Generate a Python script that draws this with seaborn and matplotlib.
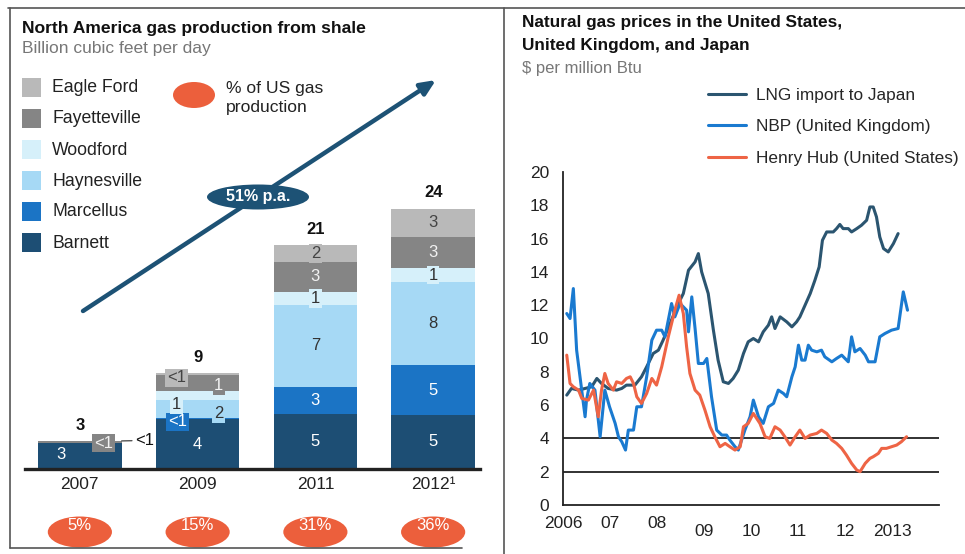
import numpy as np
import pandas as pd
import matplotlib
matplotlib.use("Agg")
import matplotlib.pyplot as plt
import matplotlib.transforms as mtransforms
from matplotlib.patches import Ellipse, Rectangle
from matplotlib.lines import Line2D
import seaborn as sns

# ---------------- data: shale production (bcf/d) ----------------
years = ["2007", "2009", "2011", "2012¹"]
sources = ["Barnett", "Marcellus", "Haynesville", "Woodford", "Fayetteville", "Eagle Ford"]
barnett = [2.4, 4.6, 5.1, 5.0]
marcellus = [0.0, 0.15, 2.5, 4.6]
haynesville = [0.0, 1.6, 7.6, 7.7]
woodford = [0.0, 0.9, 1.2, 1.3]
fayetteville = [0.2, 1.5, 2.8, 2.9]
eagle_ford = [0.0, 0.1, 1.5, 2.6]
seg_labels = {
    "Barnett": ["3", "4", "5", "5"],
    "Marcellus": ["", "<1", "3", "5"],
    "Haynesville": ["", "2", "7", "8"],
    "Woodford": ["", "1", "1", "1"],
    "Fayetteville": ["<1", "1", "3", "3"],
    "Eagle Ford": ["<1", "<1", "2", "3"],
}
totals = ["3", "9", "21", "24"]
us_share = ["5%", "15%", "31%", "36%"]
growth = "51% p.a."

# ---------------- data: gas prices ($/MMBtu) ----------------
lng_t = [2006.08, 2006.18, 2006.33, 2006.47, 2006.61, 2006.72, 2006.82, 2006.96, 2007.14, 2007.25,
         2007.35, 2007.53, 2007.67, 2007.78, 2007.92, 2008.03, 2008.13, 2008.28, 2008.42, 2008.56,
         2008.67, 2008.81, 2008.88, 2008.95, 2009.09, 2009.20, 2009.30, 2009.41, 2009.52, 2009.62,
         2009.73, 2009.84, 2009.94, 2010.05, 2010.16, 2010.26, 2010.37, 2010.44, 2010.51, 2010.62,
         2010.76, 2010.87, 2010.97, 2011.04, 2011.15, 2011.26, 2011.36, 2011.45, 2011.52, 2011.61,
         2011.75, 2011.82, 2011.89, 2011.96, 2012.07, 2012.14, 2012.25, 2012.35, 2012.46, 2012.53,
         2012.60, 2012.67, 2012.74, 2012.82, 2012.92, 2013.03, 2013.13]
lng_v = [6.6, 7.0, 6.9, 7.0, 7.1, 7.6, 7.3, 7.0, 6.9, 7.0,
         7.2, 7.2, 7.7, 8.3, 9.1, 9.3, 9.9, 10.9, 11.9, 12.7,
         14.1, 14.6, 15.1, 14.0, 12.7, 10.5, 8.7, 7.4, 7.3, 7.6,
         8.1, 9.1, 9.8, 10.0, 9.8, 10.4, 10.8, 11.3, 10.6, 11.3,
         11.0, 10.7, 11.0, 11.3, 12.0, 12.7, 13.5, 14.3, 15.9, 16.4,
         16.4, 16.6, 16.85, 16.6, 16.6, 16.4, 16.6, 16.8, 17.1, 17.9,
         17.9, 17.3, 16.1, 15.4, 15.2, 15.7, 16.3]

nbp_t = [2006.08, 2006.15, 2006.22, 2006.29, 2006.47, 2006.50, 2006.57, 2006.68, 2006.79, 2006.89,
         2006.99, 2007.11, 2007.18, 2007.25, 2007.33, 2007.39, 2007.50, 2007.57, 2007.67, 2007.78,
         2007.89, 2007.99, 2008.10, 2008.17, 2008.31, 2008.38, 2008.49, 2008.63, 2008.67, 2008.74,
         2008.81, 2008.88, 2008.99, 2009.06, 2009.16, 2009.27, 2009.38, 2009.48, 2009.55, 2009.66,
         2009.73, 2009.87, 2009.98, 2010.05, 2010.16, 2010.26, 2010.37, 2010.48, 2010.58, 2010.69,
         2010.76, 2010.87, 2010.94, 2011.01, 2011.08, 2011.15, 2011.22, 2011.29, 2011.40, 2011.50,
         2011.57, 2011.72, 2011.82, 2011.93, 2012.00, 2012.07, 2012.14, 2012.21, 2012.32, 2012.43,
         2012.50, 2012.64, 2012.74, 2012.85, 2012.99, 2013.13, 2013.24, 2013.33]
nbp_v = [11.5, 11.2, 13.0, 9.3, 5.3, 6.3, 7.3, 6.9, 4.1, 6.9,
         5.9, 4.9, 4.1, 3.8, 3.3, 4.5, 4.5, 5.9, 5.9, 7.7,
         9.9, 10.5, 10.5, 10.1, 12.1, 11.3, 12.1, 11.7, 10.4, 12.5,
         10.6, 8.5, 8.5, 8.8, 6.5, 4.5, 4.2, 4.2, 3.9, 3.5,
         3.3, 4.5, 5.3, 6.3, 5.3, 4.9, 5.9, 6.1, 6.9, 6.7,
         6.5, 7.7, 8.3, 9.6, 8.7, 8.7, 9.6, 9.3, 9.2, 9.3,
         8.9, 8.6, 8.8, 9.0, 8.8, 8.6, 10.1, 9.2, 9.4, 9.0,
         8.6, 8.6, 10.1, 10.3, 10.5, 10.6, 12.8, 11.7]

hh_t = [2006.08, 2006.15, 2006.22, 2006.33, 2006.40, 2006.54, 2006.65, 2006.75, 2006.82, 2006.89,
        2006.96, 2007.07, 2007.14, 2007.25, 2007.35, 2007.43, 2007.50, 2007.57, 2007.67, 2007.78,
        2007.89, 2007.99, 2008.10, 2008.24, 2008.38, 2008.47, 2008.56, 2008.63, 2008.70, 2008.81,
        2008.91, 2009.02, 2009.13, 2009.23, 2009.34, 2009.45, 2009.55, 2009.66, 2009.77, 2009.84,
        2009.94, 2010.05, 2010.19, 2010.30, 2010.40, 2010.51, 2010.62, 2010.72, 2010.83, 2010.94,
        2011.04, 2011.15, 2011.26, 2011.40, 2011.50, 2011.61, 2011.72, 2011.82, 2011.93, 2012.03,
        2012.14, 2012.25, 2012.32, 2012.43, 2012.53, 2012.60, 2012.71, 2012.78, 2012.88, 2012.99,
        2013.10, 2013.20, 2013.31]
hh_v = [9.0, 7.3, 7.1, 6.9, 6.4, 6.3, 6.9, 5.3, 6.9, 7.9,
        7.3, 6.9, 7.4, 7.3, 7.6, 7.7, 7.3, 6.5, 6.1, 6.7,
        7.6, 7.2, 8.3, 10.1, 11.7, 12.6, 11.5, 9.5, 7.9, 6.9,
        6.6, 5.7, 4.7, 4.1, 3.5, 3.7, 3.5, 3.3, 3.5, 4.7,
        4.9, 5.5, 4.9, 4.1, 4.0, 4.7, 4.5, 4.1, 3.6, 4.1,
        4.5, 4.0, 4.2, 4.3, 4.5, 4.3, 3.9, 3.7, 3.4, 3.0,
        2.5, 2.1, 2.0, 2.5, 2.8, 2.9, 3.1, 3.4, 3.4, 3.5,
        3.6, 3.8, 4.1]

price_years = list(range(2006, 2015))
price_year_labels = ["2006", "07", "08", "09", "10", "11", "12", "2013", ""]
ref_levels = [2, 4]

# ---------------- styling ----------------
colors = {
    "Barnett": "#1d4e74",
    "Marcellus": "#1b74c5",
    "Haynesville": "#a6d9f5",
    "Woodford": "#d6f0fa",
    "Fayetteville": "#858585",
    "Eagle Ford": "#b9b9b9",
}
text_on = {
    "Barnett": "white", "Marcellus": "white", "Haynesville": "#333333",
    "Woodford": "#333333", "Fayetteville": "#f2f2f2", "Eagle Ford": "#444444",
}
orange = "#ec5f3c"
navy = "#1d5275"
line_colors = {"LNG import to Japan": "#2b5570",
               "NBP (United Kingdom)": "#1a7ad0",
               "Henry Hub (United States)": "#ee6445"}

# label placement tweaks for thin segments (dx in bar units, dy in bcf/d)
nudge = {
    (0, "Barnett"): (-0.16, 0.1),
    (0, "Fayetteville"): (0.2, -0.1),
    (1, "Marcellus"): (-0.17, -0.3),
    (1, "Haynesville"): (0.18, -0.45),
    (1, "Woodford"): (-0.18, -0.85),
    (1, "Fayetteville"): (0.18, -0.3),
    (1, "Eagle Ford"): (-0.18, -0.35),
}

sns.set_style("white")
plt.rcParams["font.family"] = ["Liberation Sans", "DejaVu Sans"]

W, H = 965, 554


def fx(x):
    return x / W


def fy(y):
    return 1 - y / H


fig = plt.figure(figsize=(W / 100, H / 100), dpi=100)

# ================= left panel: stacked bars =================
bar_df = pd.DataFrame({"year": years, "Barnett": barnett, "Marcellus": marcellus,
                       "Haynesville": haynesville, "Woodford": woodford,
                       "Fayetteville": fayetteville, "Eagle Ford": eagle_ford})
stack = bar_df[sources].cumsum(axis=1)

ax1 = fig.add_axes([fx(25), fy(469), fx(480) - fx(25), 28 * 10.8 / H])
for src in reversed(sources):
    sns.barplot(x=bar_df["year"], y=stack[src], color=colors[src], saturation=1,
                width=0.71, linewidth=0, errorbar=None, ax=ax1)

ax1.set_xlim(-0.466, 3.398)
ax1.set_ylim(0, 28)
ax1.set_xlabel("")
ax1.set_ylabel("")
ax1.set_yticks([])
for s in ["top", "left", "right"]:
    ax1.spines[s].set_visible(False)
ax1.spines["bottom"].set_linewidth(2.4)
ax1.spines["bottom"].set_color("#222222")
ax1.tick_params(axis="x", length=0, pad=6, labelsize=12.5, labelcolor="#222222")

for i in range(len(years)):
    base = 0.0
    for src in sources:
        h = bar_df.loc[i, src]
        lab = seg_labels[src][i]
        if lab and not (i == 0 and src == "Eagle Ford"):
            dx, dy = nudge.get((i, src), (0, 0))
            ax1.text(i + dx, base + h / 2 + dy, lab, ha="center", va="center",
                     fontsize=12, color=text_on[src],
                     bbox=dict(boxstyle="square,pad=0.1", fc=colors[src], ec="none"))
        base += h
    ax1.annotate(totals[i], xy=(i, stack.iloc[i, -1]), xytext=(0, 6),
                 textcoords="offset points", ha="center", va="bottom",
                 fontsize=12, fontweight="bold", color="#111111")

# outside label for the 2007 sliver
ax1.annotate(seg_labels["Eagle Ford"][0], xy=(0.355, stack.iloc[0, -1]),
             xytext=(0.47, stack.iloc[0, -1] + 0.05), ha="left", va="center",
             fontsize=12, color="#111111",
             arrowprops=dict(arrowstyle="-", color="#555555", lw=1, shrinkA=0, shrinkB=0))

# share of US production ellipses
trans = mtransforms.blended_transform_factory(ax1.transData, fig.transFigure)
for i, s in enumerate(us_share):
    ax1.add_patch(Ellipse((i, fy(532)), 0.545, 31 / H, transform=trans,
                          fc=orange, ec="none", clip_on=False))
    ax1.text(i, fy(526), s, transform=trans, ha="center", va="center",
             color="white", fontsize=12)

# growth arrow
ax1.annotate("", xy=(fx(436), fy(80)), xytext=(fx(83), fy(311)),
             xycoords="figure fraction", textcoords="figure fraction",
             arrowprops=dict(arrowstyle="-|>,head_length=0.9,head_width=0.4",
                             color=navy, lw=3.2, shrinkA=0, shrinkB=0))
fig.patches.append(Ellipse((fx(258), fy(197)), 102 / W, 25 / H, transform=fig.transFigure,
                           fc=navy, ec="none"))
fig.text(fx(258), fy(197), growth, ha="center", va="center", color="white",
         fontsize=11.5, fontweight="bold")

# legend
for k, src in enumerate(reversed(sources)):
    y = 88 + k * 31
    fig.patches.append(Rectangle((fx(22), fy(y + 9)), 19 / W, 19 / H,
                                 transform=fig.transFigure, fc=colors[src], ec="none"))
    fig.text(fx(52), fy(y), src, va="center", fontsize=12.7, color="#222222")
fig.patches.append(Ellipse((fx(194), fy(95)), 42 / W, 26 / H, transform=fig.transFigure,
                           fc=orange, ec="none"))
fig.text(fx(226), fy(98), "% of US gas\nproduction", va="center", fontsize=12.6,
         color="#222222", linespacing=1.3)

fig.text(fx(22), fy(28), "North America gas production from shale", va="center",
         fontsize=12.6, fontweight="bold", color="#111111")
fig.text(fx(22), fy(48), "Billion cubic feet per day", va="center",
         fontsize=12.5, color="#777777")

# ================= right panel: prices =================
prices = pd.concat([
    pd.DataFrame({"t": lng_t, "price": lng_v, "series": "LNG import to Japan"}),
    pd.DataFrame({"t": nbp_t, "price": nbp_v, "series": "NBP (United Kingdom)"}),
    pd.DataFrame({"t": hh_t, "price": hh_v, "series": "Henry Hub (United States)"}),
])

ax2 = fig.add_axes([fx(563), fy(505), fx(939) - fx(563), (505 - 172) / H])
for lvl in ref_levels:
    ax2.axhline(lvl, color="#222222", lw=1.3, zorder=1)
sns.lineplot(data=prices, x="t", y="price", hue="series", palette=line_colors,
             estimator=None, lw=2.2, legend=False, ax=ax2, zorder=3)

ax2.set_xlim(2006, 2014)
ax2.set_ylim(0, 20)
ax2.set_xlabel("")
ax2.set_ylabel("")
ax2.set_yticks(range(0, 21, 2))
ax2.set_xticks(price_years)
ax2.set_xticklabels(price_year_labels)
for s in ["top", "right"]:
    ax2.spines[s].set_visible(False)
for s in ["left", "bottom"]:
    ax2.spines[s].set_color("#222222")
    ax2.spines[s].set_linewidth(1.3)
ax2.tick_params(axis="both", direction="in", length=5, width=1.2, color="#222222",
                labelsize=12.5, labelcolor="#222222")
ax2.tick_params(axis="y", pad=10)
ax2.tick_params(axis="x", pad=8)
shift = mtransforms.ScaledTranslation(0, -8 / 100, fig.dpi_scale_trans)
for lab in ax2.get_xticklabels()[3:8]:
    lab.set_transform(lab.get_transform() + shift)

handles = [Line2D([], [], color=c, lw=2.2) for c in line_colors.values()]
ax2.legend(handles, list(line_colors.keys()), loc="upper left",
           bbox_to_anchor=(fx(708), fy(88)), bbox_transform=fig.transFigure,
           frameon=False, fontsize=12.4, handlelength=2.2, handletextpad=0.6,
           labelspacing=0.95, borderpad=0, borderaxespad=0)

fig.text(fx(522), fy(34), "Natural gas prices in the United States,\nUnited Kingdom, and Japan",
         va="center", fontsize=12.4, fontweight="bold", color="#111111", linespacing=1.6)
fig.text(fx(522), fy(69), "$ per million Btu", va="center", fontsize=12, color="#777777")

# panel frames
frame = dict(transform=fig.transFigure, color="#555555", lw=1.2)
fig.add_artist(Line2D([fx(8), fx(965)], [fy(8), fy(8)], **frame))
fig.add_artist(Line2D([fx(10), fx(10)], [fy(8), fy(548)], **frame))
fig.add_artist(Line2D([fx(10), fx(462)], [fy(548), fy(548)], **frame))
fig.add_artist(Line2D([fx(504), fx(504)], [fy(8), fy(554)], **frame))

fig.savefig("out.png", dpi=100)
